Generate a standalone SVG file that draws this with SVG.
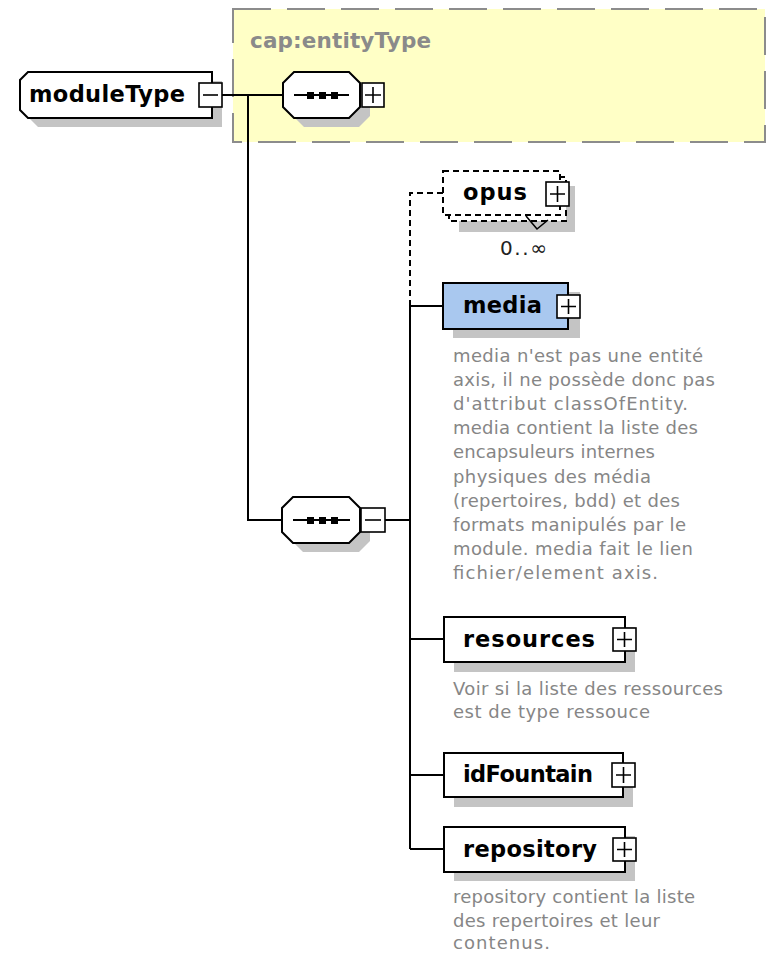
<svg xmlns="http://www.w3.org/2000/svg" width="766" height="953" viewBox="0 0 766 953">
<style>
.bg{fill:#ffffff}
.shadow{fill:#c4c4c4}
.box{fill:#ffffff;stroke:#000;stroke-width:2}
.dbox{fill:#ffffff;stroke:#000;stroke-width:2;stroke-dasharray:6 4}
.media{fill:#a9c8ef;stroke:#000;stroke-width:2}
.pm{fill:#ffffff;stroke:#000;stroke-width:1.6}
.sign{stroke:#000;stroke-width:1.6;fill:none}
.line{stroke:#000;stroke-width:2;fill:none}
.dline{stroke:#000;stroke-width:2;fill:none;stroke-dasharray:6 4}
.lbl{font-family:"DejaVu Sans","Liberation Sans",sans-serif;font-weight:bold;font-size:22.5px;fill:#000}
.type{font-family:"DejaVu Sans","Liberation Sans",sans-serif;font-weight:bold;font-size:21.5px;fill:#8a8a8a}
.doc{font-family:"DejaVu Sans","Liberation Sans",sans-serif;font-size:18px;fill:#868686}
.occ{font-family:"DejaVu Sans","Liberation Sans",sans-serif;font-size:20px;fill:#222}
</style>
<rect class="bg" x="0" y="0" width="766" height="953"/>

<g id="entityType">
  <rect x="233" y="9" width="532" height="133" fill="#ffffc6" stroke="#8c8c8c" stroke-width="2" stroke-dasharray="38 16"/>
  <text class="type" x="250" y="48" textLength="181">cap:entityType</text>
</g>

<g id="connectors">
  <path class="line" d="M222,95 H283"/>
  <path class="line" d="M248,95 V520 H282"/>
  <path class="line" d="M385,520 H410"/>
  <path class="line" d="M410,306 V849"/>
  <path class="line" d="M410,306 H443"/>
  <path class="line" d="M410,639 H444"/>
  <path class="line" d="M410,775 H444"/>
  <path class="line" d="M410,849 H444"/>
  <path class="dline" d="M410,306 V193 H443"/>
</g>

<g id="moduleType">
  <polygon class="shadow" points="38,81 222,81 222,127 38,127 30,119 30,89"/>
  <polygon class="box" points="28,72 212,72 212,118 28,118 20,110 20,80"/>
  <text class="lbl" x="29" y="102" textLength="156">moduleType</text>
  <rect class="pm" x="199" y="83" width="23" height="24"/>
  <path class="sign" d="M203,95 H218"/>
</g>

<g id="sequence1">
  <polygon class="shadow" points="304,81 359,81 370,92 370,116 359,127 304,127 293,116 293,92"/>
  <polygon class="box" points="294,72 349,72 360,83 360,107 349,118 294,118 283,107 283,83"/>
  <path class="line" d="M294,95 H349"/>
  <rect x="307" y="92" width="7" height="7" fill="#000"/>
  <rect x="319" y="92" width="7" height="7" fill="#000"/>
  <rect x="331" y="92" width="7" height="7" fill="#000"/>
  <rect class="pm" x="362" y="83" width="22" height="24"/>
  <path class="sign" d="M365,95 H381 M373,87 V103"/>
</g>

<g id="sequence2">
  <polygon class="shadow" points="303,506 359,506 370,517 370,541 359,552 303,552 292,541 292,517"/>
  <polygon class="box" points="293,497 349,497 360,508 360,532 349,543 293,543 282,532 282,508"/>
  <path class="line" d="M293,520 H350"/>
  <rect x="307" y="517" width="7" height="7" fill="#000"/>
  <rect x="319" y="517" width="7" height="7" fill="#000"/>
  <rect x="331" y="517" width="7" height="7" fill="#000"/>
  <rect class="pm" x="361" y="508" width="24" height="24"/>
  <path class="sign" d="M365,520 H381"/>
</g>

<g id="opus">
  <rect class="shadow" x="459" y="186" width="116" height="46"/>
  <rect class="dbox" x="449" y="177" width="117" height="44"/>
  <rect class="dbox" x="443" y="171" width="117" height="44"/>
  <polyline points="526,216 537,229 548,220" fill="none" stroke="#000" stroke-width="1.6"/>
  <text class="lbl" x="463" y="200" textLength="64">opus</text>
  <rect class="pm" x="546" y="182" width="23" height="24"/>
  <path class="sign" d="M550,194 H565 M557.5,186 V202"/>
  <text class="occ" x="500" y="255" textLength="47">0..∞</text>
</g>

<g id="media">
  <rect class="shadow" x="453" y="292" width="127" height="46"/>
  <rect class="media" x="443" y="283" width="125" height="46"/>
  <text class="lbl" x="463" y="313" textLength="79">media</text>
  <rect class="pm" x="557" y="295" width="23" height="23"/>
  <path class="sign" d="M561,306.5 H576 M568.5,299 V314"/>
  <text class="doc" x="453" y="362" textLength="250">media n'est pas une entité</text>
  <text class="doc" x="453" y="386" textLength="262">axis, il ne possède donc pas</text>
  <text class="doc" x="453" y="410" textLength="235">d'attribut classOfEntity.</text>
  <text class="doc" x="453" y="434" textLength="245">media contient la liste des</text>
  <text class="doc" x="453" y="458" textLength="202">encapsuleurs internes</text>
  <text class="doc" x="453" y="483" textLength="198">physiques des média</text>
  <text class="doc" x="453" y="507" textLength="227">(repertoires, bdd) et des</text>
  <text class="doc" x="453" y="531" textLength="233">formats manipulés par le</text>
  <text class="doc" x="453" y="555" textLength="240">module. media fait le lien</text>
  <text class="doc" x="453" y="579" textLength="205">fichier/element axis.</text>
</g>

<g id="resources">
  <rect class="shadow" x="454" y="627" width="181" height="45"/>
  <rect class="box" x="444" y="617" width="181" height="45"/>
  <text class="lbl" x="463" y="647" textLength="132">resources</text>
  <rect class="pm" x="613" y="628" width="23" height="23"/>
  <path class="sign" d="M617,639.5 H632 M624.5,632 V647"/>
  <text class="doc" x="453" y="695" textLength="270">Voir si la liste des ressources</text>
  <text class="doc" x="453" y="718" textLength="197">est de type ressouce</text>
</g>

<g id="idFountain">
  <rect class="shadow" x="454" y="763" width="179" height="44"/>
  <rect class="box" x="444" y="753" width="179" height="44"/>
  <text class="lbl" x="463" y="782" textLength="130">idFountain</text>
  <rect class="pm" x="612" y="763" width="23" height="24"/>
  <path class="sign" d="M616,775 H631 M623.5,767 V783"/>
</g>

<g id="repository">
  <rect class="shadow" x="454" y="836" width="181" height="45"/>
  <rect class="box" x="444" y="827" width="181" height="45"/>
  <text class="lbl" x="463" y="857" textLength="134">repository</text>
  <rect class="pm" x="613" y="838" width="23" height="23"/>
  <path class="sign" d="M617,849.5 H632 M624.5,842 V857"/>
  <text class="doc" x="453" y="903" textLength="242">repository contient la liste</text>
  <text class="doc" x="453" y="927" textLength="207">des repertoires et leur</text>
  <text class="doc" x="453" y="949" textLength="97">contenus.</text>
</g>
</svg>
